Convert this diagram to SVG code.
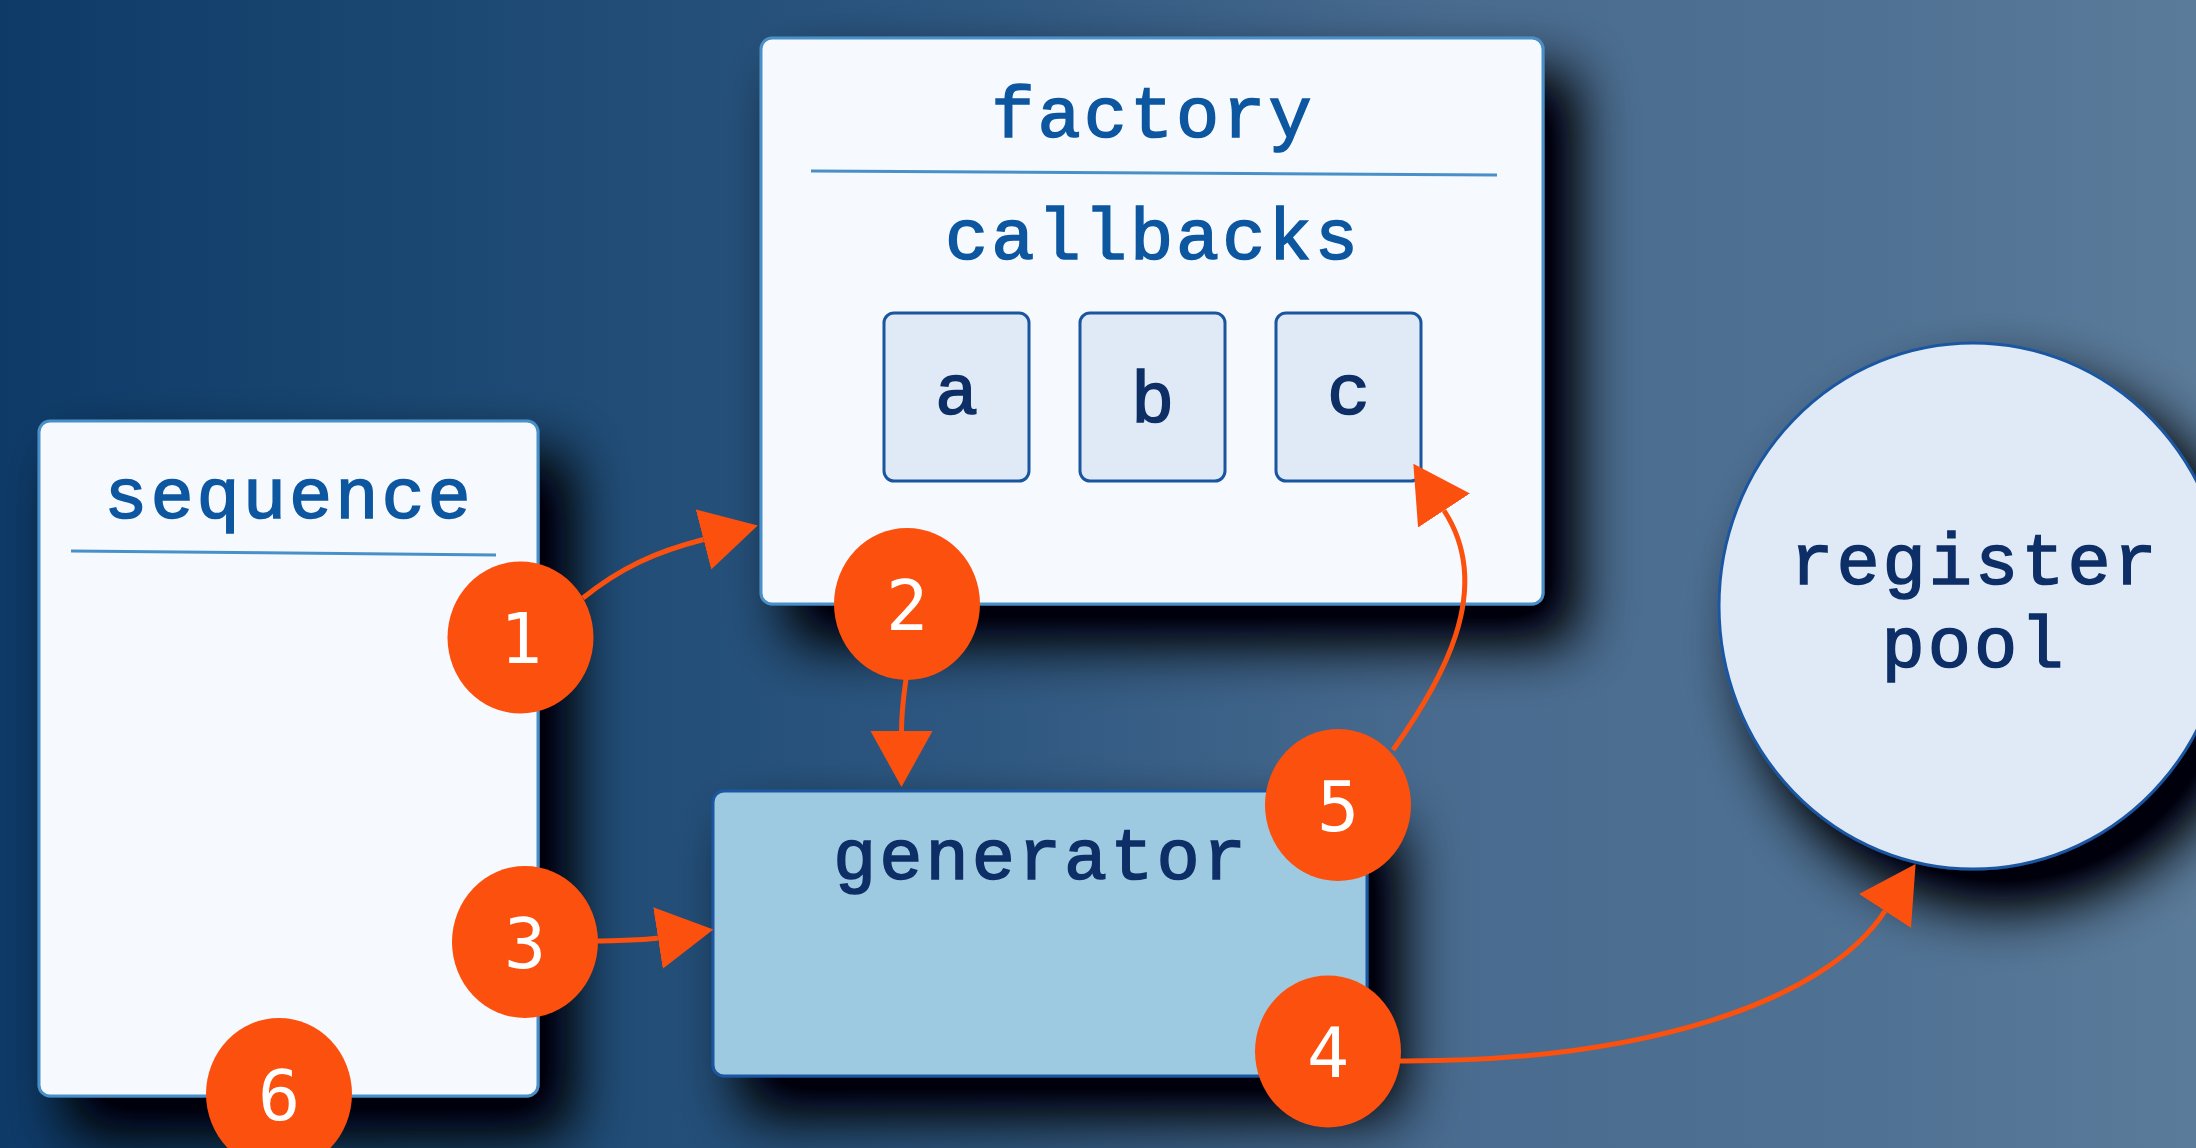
<svg xmlns="http://www.w3.org/2000/svg" width="2196" height="1148" viewBox="0 0 2196 1148">
  <defs>
    <linearGradient id="bg" x1="0" y1="0" x2="2196" y2="0" gradientUnits="userSpaceOnUse">
      <stop offset="0" stop-color="#0e3a68"/>
      <stop offset="0.137" stop-color="#16446f"/>
      <stop offset="0.32" stop-color="#244f79"/>
      <stop offset="0.455" stop-color="#2f5881"/>
      <stop offset="0.66" stop-color="#496b8f"/>
      <stop offset="0.85" stop-color="#4f7193"/>
      <stop offset="1" stop-color="#5b7b9a"/>
    </linearGradient>
    <filter id="shadow" x="-25%" y="-25%" width="160%" height="160%">
      <feGaussianBlur in="SourceAlpha" stdDeviation="30" result="blur"/>
      <feOffset in="blur" dx="30" dy="36" result="off"/>
      <feComponentTransfer in="off" result="boost">
        <feFuncA type="linear" slope="1.25"/>
      </feComponentTransfer>
      <feFlood flood-color="#010409" flood-opacity="1"/>
      <feComposite in2="boost" operator="in" result="shade"/>
      <feMerge>
        <feMergeNode in="shade"/>
        <feMergeNode in="SourceGraphic"/>
      </feMerge>
    </filter>
    <marker id="head" markerUnits="userSpaceOnUse" markerWidth="60" markerHeight="66" viewBox="0 -33 60 66" refX="0" refY="0" orient="auto">
      <path d="M0,-31 L56,0 L0,31 Z" fill="#fc500e"/>
    </marker>
  </defs>
  <style>
    .panel { fill: #f6f9fe; stroke: #4a90c8; stroke-width: 3; }
    .rule { stroke: #4a90c8; stroke-width: 3; fill: none; }
    .slot { fill: #dfeaf6; stroke: #1a56a0; stroke-width: 3; }
    .gen { fill: #9ecae1; stroke: #1a56a0; stroke-width: 3; }
    .pool { fill: #dfeaf6; stroke: #1a56a0; stroke-width: 3; }
    .title { font-family: "Liberation Mono", "Courier New", monospace; font-size: 72px; letter-spacing: 3px; text-anchor: middle; fill: #0d56a0; stroke: #0d56a0; stroke-width: 1.6; }
    .label { font-family: "Liberation Mono", "Courier New", monospace; font-size: 72px; letter-spacing: 3px; text-anchor: middle; fill: #0d2f66; stroke: #0d2f66; stroke-width: 1.6; }
    .edge { fill: none; stroke: #fc500e; stroke-width: 5; marker-end: url(#head); }
    .badge ellipse { fill: #fc500e; }
    .badge text { font-family: "DejaVu Sans Mono", monospace; font-size: 70px; text-anchor: middle; fill: #ffffff; }
  </style>

  <rect x="0" y="0" width="2196" height="1148" fill="url(#bg)"/>

  <!-- sequence -->
  <g id="sequence" filter="url(#shadow)">
    <rect class="panel" x="39" y="421" width="499" height="675" rx="11"/>
    <text class="title" x="289" y="518">sequence</text>
    <line class="rule" x1="71" y1="551" x2="496" y2="555"/>
  </g>

  <!-- factory with its callbacks -->
  <g id="factory" filter="url(#shadow)">
    <rect class="panel" x="761" y="38" width="782" height="566" rx="11"/>
    <text class="title" x="1153" y="137">factory</text>
    <line class="rule" x1="811" y1="171" x2="1497" y2="175"/>
    <text class="title" x="1153" y="259">callbacks</text>
  </g>
  <g id="callback-a">
    <rect class="slot" x="884" y="313" width="145" height="168" rx="10"/>
    <text class="label" x="958" y="414">a</text>
  </g>
  <g id="callback-b">
    <rect class="slot" x="1080" y="313" width="145" height="168" rx="10"/>
    <text class="label" x="1154" y="422">b</text>
  </g>
  <g id="callback-c">
    <rect class="slot" x="1276" y="313" width="145" height="168" rx="10"/>
    <text class="label" x="1350" y="414">c</text>
  </g>

  <!-- generator -->
  <g id="generator" filter="url(#shadow)">
    <rect class="gen" x="713" y="791" width="654" height="285" rx="11"/>
    <text class="label" x="1041" y="879">generator</text>
  </g>

  <!-- register pool -->
  <g id="register-pool" filter="url(#shadow)">
    <ellipse class="pool" cx="1973" cy="606" rx="254" ry="263"/>
    <text class="label" x="1975" y="584">register</text>
    <text class="label" x="1974" y="667">pool</text>
  </g>

  <!-- connectors -->
  <g id="connectors">
    <path class="edge" d="M583,598 C620,568 655,552 703.5,539.5"/>
    <path class="edge" d="M906,679 C903,700 901.5,715 901.5,731"/>
    <path class="edge" d="M597,941 C620,940 640,940.8 658,938"/>
    <path class="edge" d="M1400,1061 C1640,1062 1825,1003 1885,911"/>
    <path class="edge" d="M1393,750 C1440,684 1496,590 1444,510.5"/>
  </g>

  <!-- step badges -->
  <g id="badge-1" class="badge">
    <ellipse cx="520.5" cy="637.5" rx="73" ry="76"/>
    <text x="521" y="663">1</text>
  </g>
  <g id="badge-2" class="badge">
    <ellipse cx="907" cy="604" rx="73" ry="76"/>
    <text x="907" y="629.5">2</text>
  </g>
  <g id="badge-3" class="badge">
    <ellipse cx="525" cy="942" rx="73" ry="76"/>
    <text x="525" y="967.5">3</text>
  </g>
  <g id="badge-4" class="badge">
    <ellipse cx="1328" cy="1051.5" rx="73" ry="76"/>
    <text x="1328" y="1077">4</text>
  </g>
  <g id="badge-5" class="badge">
    <ellipse cx="1338" cy="805" rx="73" ry="76"/>
    <text x="1338" y="830.5">5</text>
  </g>
  <g id="badge-6" class="badge">
    <ellipse cx="279" cy="1094" rx="73" ry="76"/>
    <text x="279" y="1119.5">6</text>
  </g>
</svg>
